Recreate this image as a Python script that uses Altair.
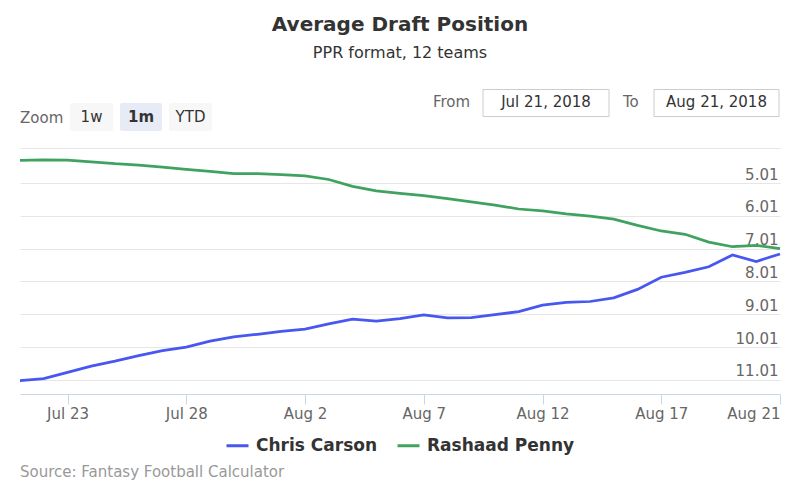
import altair as alt
import pandas as pd

# ---- data ----
days = list(range(33))  # Jul 21 ... (ordinal daily points)
carson = [11.03, 10.97, 10.78, 10.59, 10.44, 10.27, 10.12, 10.01, 9.83, 9.70,
          9.62, 9.53, 9.46, 9.30, 9.16, 9.22, 9.14, 9.03, 9.12, 9.11,
          9.02, 8.93, 8.73, 8.65, 8.62, 8.51, 8.25, 7.88, 7.73, 7.56,
          7.20, 7.40, 7.17]
penny = [4.32, 4.30, 4.31, 4.36, 4.42, 4.46, 4.52, 4.59, 4.65, 4.72,
         4.72, 4.75, 4.79, 4.90, 5.11, 5.25, 5.32, 5.39, 5.48, 5.58,
         5.68, 5.80, 5.86, 5.95, 6.02, 6.11, 6.30, 6.47, 6.57, 6.81,
         6.95, 6.91, 7.01]
series_names = ["Chris Carson", "Rashaad Penny"]
series_colors = ["#4757ef", "#3fa35f"]
tick_days = [2, 7, 12, 17, 22, 27, 32]
tick_labels = ["Jul 23", "Jul 28", "Aug 2", "Aug 7", "Aug 12", "Aug 17", "Aug 21"]
y_ticks = [3.94, 5.01, 6.01, 7.01, 8.01, 9.01, 10.01, 11.01]

df = pd.DataFrame({
    "day": days * 2,
    "adp": carson + penny,
    "player": [series_names[0]] * len(days) + [series_names[1]] * len(days),
})

FONT = "DejaVu Sans"
OX, OY = 20, 148  # plot origin in page pixels

label_expr = "[" + ",".join(f"'{t}'" for t in tick_labels) + "][indexof([" + \
    ",".join(str(d) for d in tick_days) + "], datum.value)]"

lines = alt.Chart(df).mark_line(strokeWidth=2.75).encode(
    x=alt.X("day:Q", scale=alt.Scale(domain=[0, 32], nice=False, zero=False),
            axis=alt.Axis(values=tick_days, labelExpr=label_expr, title=None,
                          grid=False, domainColor="#ccd6eb", tickColor="#ccd6eb",
                          tickSize=10, labelPadding=2, labelFontSize=15,
                          labelColor="#666666", labelFont=FONT, labelFlush=True,
                          labelFlushOffset=0)),
    y=alt.Y("adp:Q", scale=alt.Scale(domain=[3.94, 11.44], reverse=True, nice=False, zero=False),
            axis=alt.Axis(orient="right", values=y_ticks, title=None, domain=False,
                          ticks=False, tickSize=0, grid=True, gridColor="#e6e6e6",
                          labelAlign="right", labelBaseline="alphabetic",
                          labelPadding=-2, labelOffset=-4, labelFontSize=15,
                          labelColor="#666666", labelFont=FONT,
                          labelExpr="datum.value < 4 ? '' : format(datum.value, '.2f')")),
    color=alt.Color("player:N",
                    scale=alt.Scale(domain=series_names, range=series_colors),
                    legend=alt.Legend(orient="none", legendX=205, legendY=285,
                                      direction="horizontal", title=None,
                                      symbolType="stroke", symbolSize=484,
                                      symbolStrokeWidth=3, labelFontSize=17,
                                      labelFontWeight="bold", labelColor="#333333",
                                      labelFont=FONT, labelOffset=6,
                                      columnPadding=13, padding=0)),
)

one = alt.Data(values=[{"a": 1}])


def text(t, x, y, size=15, color="#333333", align="left", weight="normal"):
    return alt.Chart(one).mark_text(text=t, fontSize=size, color=color, align=align,
                                    baseline="alphabetic", font=FONT,
                                    fontWeight=weight).encode(
        x=alt.value(x - OX), y=alt.value(y - OY))


def box(x1, y1, x2, y2, fill, stroke=None, radius=2):
    kw = dict(fill=fill, cornerRadius=radius)
    if stroke:
        kw.update(stroke=stroke, strokeWidth=1)
    return alt.Chart(one).mark_rect(**kw).encode(
        x=alt.value(x1 - OX), x2=alt.value(x2 - OX),
        y=alt.value(y1 - OY), y2=alt.value(y2 - OY))


decor = [
    text("Average Draft Position", 400, 31, size=20, weight="bold", align="center"),
    text("PPR format, 12 teams", 400, 58, size=16, align="center"),
    text("Zoom", 20, 123, color="#666666"),
    box(70, 103, 113, 131, "#f7f7f7"),
    box(120, 103, 162, 131, "#e6ebf5"),
    box(169, 103, 212, 131, "#f7f7f7"),
    text("1w", 91.5, 122, align="center"),
    text("1m", 141, 122, align="center", weight="bold"),
    text("YTD", 190.5, 122, align="center"),
    text("From", 433, 107, color="#666666"),
    box(483, 89.5, 609, 116.5, "#ffffff", stroke="#cccccc", radius=0),
    text("Jul 21, 2018", 546, 107, align="center"),
    text("To", 623, 107, color="#666666"),
    box(654, 89.5, 779, 116.5, "#ffffff", stroke="#cccccc", radius=0),
    text("Aug 21, 2018", 716.5, 107, align="center"),
    text("Source: Fantasy Football Calculator", 20, 477, size=15, color="#999999"),
]

chart = alt.layer(lines, *decor).properties(
    width=760, height=246,
    autosize=alt.AutoSizeParams(type="none"),
    padding={"left": 12, "top": 140, "right": 12, "bottom": 98},
).configure_view(stroke=None)

chart.save("out.html", embed_options={"renderer": "svg", "actions": False})
